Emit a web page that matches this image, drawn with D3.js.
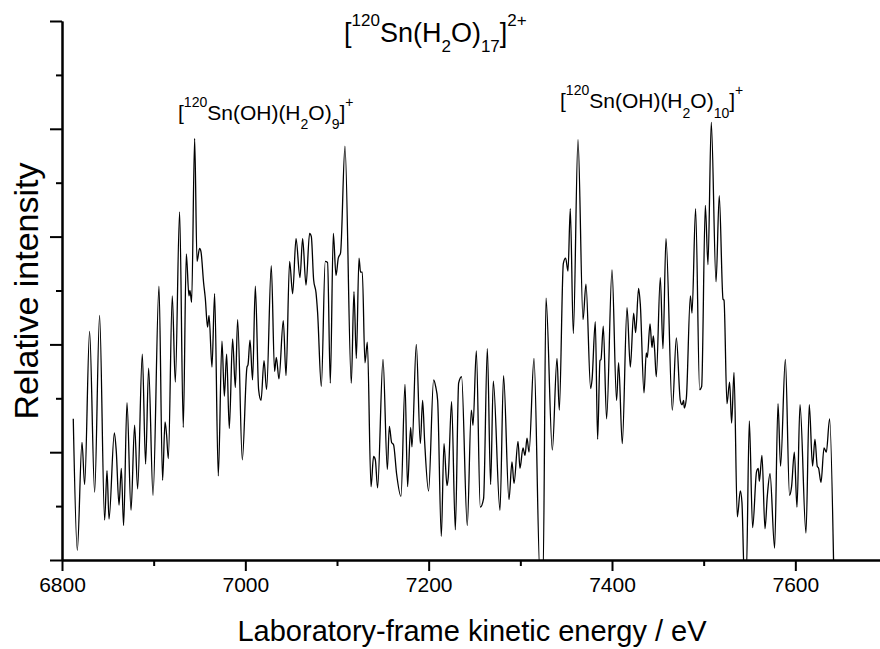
<!DOCTYPE html>
<html>
<head>
<meta charset="utf-8">
<script src="https://cdn.jsdelivr.net/npm/d3@7"></script>
<style>
  body { margin: 0; background: #fff; }
  svg { font-family: "Liberation Sans", Arial, sans-serif; }
  .axis path, .axis line { stroke: #000; stroke-width: 2; }
  .axis text { font-size: 21px; fill: #000; }
</style>
</head>
<body>
<div id="chart"></div>
<script>
var width = 880;
var height = 649;
var margin = {left: 62, top: 21, bottom: 89};

// kinetic energy (eV) of each sample
var energy = [
  6812.3, 6816.7, 6821.8, 6824.7, 6830.1, 6835.6, 6841.0, 6846.5, 6849.1, 6851.3,
  6857.1, 6859.2, 6862.2, 6864.7, 6867.2, 6870.9, 6875.3, 6879.2, 6882.5, 6887.6,
  6891.2, 6894.5, 6899.3, 6905.8, 6909.7, 6912.4, 6914.1, 6916.0, 6920.3, 6923.6,
  6928.3, 6932.3, 6935.6, 6938.5, 6939.6, 6941.4, 6944.7, 6947.3, 6950.1, 6951.6,
  6954.5, 6956.3, 6958.8, 6960.4, 6963.6, 6966.5, 6970.5, 6974.5, 6977.1, 6979.6,
  6982.5, 6986.1, 6989.1, 6991.6, 6996.7, 7001.8, 7002.9, 7005.1, 7007.9, 7010.9,
  7014.5, 7017.1, 7020.4, 7023.2, 7028.3, 7031.9, 7033.8, 7036.7, 7041.4, 7044.4,
  7048.3, 7051.6, 7055.3, 7059.6, 7062.5, 7066.2, 7070.1, 7072.0, 7074.5, 7077.1,
  7078.8, 7082.9, 7087.2, 7089.7, 7092.7, 7096.0, 7098.9, 7101.4, 7103.9, 7108.7,
  7115.6, 7118.5, 7121.1, 7124.0, 7125.7, 7127.6, 7130.5, 7133.1, 7137.1, 7139.9,
  7141.8, 7144.3, 7150.2, 7154.9, 7157.1, 7159.6, 7161.7, 7165.0, 7169.8, 7174.2,
  7177.0, 7180.3, 7181.8, 7186.5, 7190.9, 7193.4, 7195.6, 7199.9, 7205.4, 7207.6,
  7209.8, 7213.8, 7216.7, 7220.0, 7221.4, 7225.0, 7229.1, 7232.7, 7235.9, 7242.1,
  7246.5, 7248.4, 7252.0, 7256.3, 7259.9, 7264.0, 7267.6, 7270.5, 7277.8, 7281.7,
  7287.6, 7290.9, 7293.1, 7297.5, 7299.6, 7302.9, 7305.1, 7307.3, 7309.5, 7314.9,
  7321.5, 7324.8, 7328.0, 7334.9, 7340.0, 7342.5, 7346.9, 7349.4, 7352.0, 7354.5,
  7357.8, 7362.9, 7368.4, 7371.6, 7376.7, 7378.2, 7381.8, 7384.3, 7386.9, 7388.0,
  7390.5, 7394.1, 7400.0, 7405.0, 7407.2, 7411.2, 7416.4, 7420.0, 7423.6, 7425.8,
  7429.0, 7430.9, 7434.9, 7437.4, 7438.5, 7441.5, 7443.6, 7445.1, 7446.5, 7448.3,
  7452.7, 7455.6, 7458.9, 7465.8, 7470.2, 7474.5, 7476.4, 7478.1, 7478.9, 7481.1,
  7485.5, 7487.3, 7491.2, 7495.6, 7497.8, 7501.8, 7504.7, 7508.3, 7513.5, 7517.0,
  7521.1, 7522.2, 7525.4, 7528.3, 7530.5, 7533.1, 7536.7, 7540.0, 7541.8, 7544.3,
  7546.5, 7549.8, 7553.4, 7557.7, 7559.6, 7560.7, 7563.6, 7566.9, 7569.4, 7572.4,
  7577.4, 7581.1, 7583.9, 7589.1, 7593.7, 7595.9, 7598.9, 7601.8, 7605.1, 7611.6,
  7615.2, 7618.8, 7621.4, 7623.9, 7625.4, 7628.0, 7631.3, 7633.8, 7637.4, 7642.0
];

// relative intensity (arb. units, one major tick = 1)
var intensity = [
  1.31, 0.09, 1.09, 0.70, 2.12, 0.63, 2.27, 0.37, 0.83, 0.38,
  1.18, 1.01, 0.51, 0.85, 0.32, 1.46, 0.46, 1.25, 0.66, 1.91,
  0.89, 1.78, 0.60, 2.54, 0.74, 1.28, 1.16, 0.94, 2.45, 1.65,
  3.23, 1.23, 2.84, 2.45, 2.50, 2.39, 3.91, 2.77, 2.89, 2.86,
  2.57, 2.43, 2.16, 2.27, 1.79, 2.47, 0.78, 2.03, 1.52, 1.91,
  1.22, 2.05, 1.60, 2.23, 0.93, 1.79, 1.81, 2.04, 1.67, 2.54,
  1.58, 1.48, 1.85, 1.58, 2.73, 1.75, 1.88, 1.68, 2.22, 1.71,
  2.77, 2.47, 2.98, 2.62, 2.98, 2.55, 3.03, 3.00, 2.60, 2.48,
  2.30, 1.61, 2.77, 2.76, 1.64, 3.03, 2.64, 2.80, 2.85, 3.84,
  1.64, 2.49, 1.87, 2.80, 2.67, 2.67, 1.83, 2.02, 0.68, 0.96,
  0.93, 0.67, 1.86, 0.84, 1.24, 1.09, 1.07, 0.80, 0.59, 1.63,
  0.68, 1.23, 1.05, 2.00, 1.08, 1.48, 1.10, 0.64, 1.67, 1.61,
  1.48, 0.22, 1.08, 0.69, 0.77, 1.47, 0.28, 1.64, 1.70, 0.32,
  1.39, 1.25, 1.94, 0.49, 0.57, 1.96, 0.70, 1.66, 0.46, 1.71,
  0.56, 0.91, 0.71, 1.10, 0.85, 1.04, 0.97, 1.13, 1.00, 1.87,
  -0.15, -0.15, 2.43, 1.02, 1.87, 1.39, 2.75, 2.80, 2.68, 3.26,
  2.10, 3.90, 2.23, 2.56, 1.59, 1.67, 2.21, 1.12, 1.85, 1.86,
  2.17, 1.31, 2.69, 1.48, 1.83, 1.08, 2.34, 1.79, 2.29, 2.11,
  2.52, 2.37, 1.55, 1.92, 1.88, 2.19, 1.97, 2.08, 1.95, 1.70,
  2.62, 1.96, 2.98, 1.39, 2.06, 1.48, 1.44, 1.48, 1.41, 1.50,
  2.45, 2.29, 3.26, 1.58, 1.61, 3.29, 2.74, 4.06, 2.58, 3.38,
  2.42, 2.41, 1.45, 1.65, 1.27, 1.74, 0.40, 0.64, 0.53, -0.15,
  -0.15, 1.29, 0.30, 0.82, 0.85, 0.73, 0.97, 0.29, 0.59, 0.80,
  0.11, 1.45, 0.87, 1.86, 0.60, 0.68, 1.00, 0.49, 1.44, 0.25,
  1.44, 0.87, 1.12, 0.87, 0.85, 0.72, 1.04, 1.00, 1.31, -0.15
];

var xMajor = [6800, 7000, 7200, 7400, 7600];
var xMinor = [6900, 7100, 7300, 7500, 7700];
var yMajor = [0, 1, 2, 3, 4, 5];
var yMinor = [0.5, 1.5, 2.5, 3.5, 4.5];

var TITLE = [['[', 'n'], ['120', 'sup'], ['Sn(H', 'n'], ['2', 'sub'], ['O)', 'n'], ['17', 'sub'], [']', 'n'], ['2+', 'sup']];
var LABEL_LEFT = [['[', 'n'], ['120', 'sup'], ['Sn(OH)(H', 'n'], ['2', 'sub'], ['O)', 'n'], ['9', 'sub'], [']', 'n'], ['+', 'sup']];
var LABEL_RIGHT = [['[', 'n'], ['120', 'sup'], ['Sn(OH)(H', 'n'], ['2', 'sub'], ['O)', 'n'], ['10', 'sub'], [']', 'n'], ['+', 'sup']];

var svg = d3.select('#chart')
    .append('svg')
    .attr('width', width)
    .attr('height', height);

var x = d3.scaleLinear()
    .domain([6800, 7700])
    .range([margin.left, margin.left + 825]);

var y = d3.scaleLinear()
    .domain([0, 5])
    .range([height - margin.bottom, margin.top]);

// clip so dips below zero vanish at the axis like in the original
svg.append('clipPath')
    .attr('id', 'plotclip')
    .append('rect')
    .attr('x', x(6800))
    .attr('y', y(5))
    .attr('width', x(7700) - x(6800))
    .attr('height', y(0) - y(5));

var points = energy.map(function (e, i) { return [e, intensity[i]]; });

svg.append('path')
    .datum(points)
    .attr('clip-path', 'url(#plotclip)')
    .attr('fill', 'none')
    .attr('stroke', '#000')
    .attr('stroke-width', 1.3)
    .attr('stroke-linejoin', 'round')
    .attr('d', d3.line()
        .x(function (d) { return x(d[0]); })
        .y(function (d) { return y(d[1]); })
        .curve(d3.curveMonotoneX));

// x axis: major with labels, minor without
svg.append('g')
    .attr('class', 'axis')
    .attr('transform', 'translate(0,' + y(0) + ')')
    .call(d3.axisBottom(x).tickValues(xMajor).tickSize(11).tickSizeOuter(0)
        .tickFormat(d3.format('d')).tickPadding(6));

svg.append('g')
    .attr('class', 'axis')
    .attr('transform', 'translate(0,' + y(0) + ')')
    .call(d3.axisBottom(x).tickValues(xMinor).tickSize(6).tickSizeOuter(0).tickFormat(''));

// y axis: no labels
svg.append('g')
    .attr('class', 'axis')
    .attr('transform', 'translate(' + x(6800) + ',0)')
    .call(d3.axisLeft(y).tickValues(yMajor).tickSize(12).tickSizeOuter(0).tickFormat(''));

svg.append('g')
    .attr('class', 'axis')
    .attr('transform', 'translate(' + x(6800) + ',0)')
    .call(d3.axisLeft(y).tickValues(yMinor).tickSize(6).tickSizeOuter(0).tickFormat(''));

svg.append('text')
    .attr('x', 472)
    .attr('y', 641)
    .attr('text-anchor', 'middle')
    .style('font-size', '29px')
    .text('Laboratory-frame kinetic energy / eV');

svg.append('text')
    .attr('transform', 'translate(38,291) rotate(-90)')
    .attr('text-anchor', 'middle')
    .style('font-size', '34px')
    .text('Relative intensity');

// formula with super/subscripts as tspans
var richText = function (x0, y0, parts, size, small, up, down) {
    var t = svg.append('text')
        .attr('x', x0)
        .attr('y', y0)
        .style('font-size', size + 'px');
    var shift = 0;
    parts.forEach(function (p) {
        var target = p[1] == 'sup' ? -up : (p[1] == 'sub' ? down : 0);
        t.append('tspan')
            .attr('dy', target - shift)
            .style('font-size', (p[1] == 'n' ? size : small) + 'px')
            .text(p[0]);
        shift = target;
    });
    return t;
};

richText(344, 42, TITLE, 27, 17, 16, 10);
richText(178, 120, LABEL_LEFT, 21, 14, 13, 9);
richText(560, 108, LABEL_RIGHT, 21, 14, 13, 10);
</script>
</body>
</html>
